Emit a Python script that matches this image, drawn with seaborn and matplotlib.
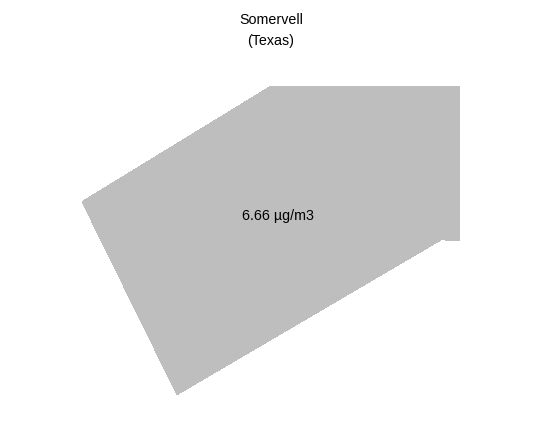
import matplotlib
matplotlib.use('Agg')
import matplotlib.pyplot as plt
import seaborn as sns

# county outline (approx lon/lat)
county = 'Somervell'
state = 'Texas'
lon = [-97.890, -97.700, -97.700, -97.713, -97.717, -97.983, -98.078]
lat = [32.370, 32.370, 32.216, 32.216, 32.218, 32.062, 32.255]
pm25 = 6.66
label_lon = -97.8825
label_lat = 32.241

def main():
    sns.set_style('white')
    plt.rcParams['font.family'] = ['Liberation Sans', 'DejaVu Sans']

    fig = plt.figure(figsize=(5.42, 4.42), dpi=100)
    ax = fig.add_axes([0, 0, 1, 1])
    ax.fill(lon, lat, color='#bebebe', linewidth=0, antialiased=False)
    ax.text(label_lon, label_lat, '%.2f µg/m3' % pm25, ha='center', va='center',
            fontsize=10.3, color='black')
    ax.set_xlim(-98.16, -97.618)
    ax.set_ylim(32.0147, 32.4567)
    ax.axis('off')

    fig.text(0.5, 1 - 20.5 / 442, county, ha='center', va='center', fontsize=10.3, color='black')
    fig.text(0.5, 1 - 41.5 / 442, '(%s)' % state, ha='center', va='center', fontsize=10.3, color='black')
    fig.savefig('out.png', dpi=100, facecolor='white')

if __name__ == '__main__':
    main()
